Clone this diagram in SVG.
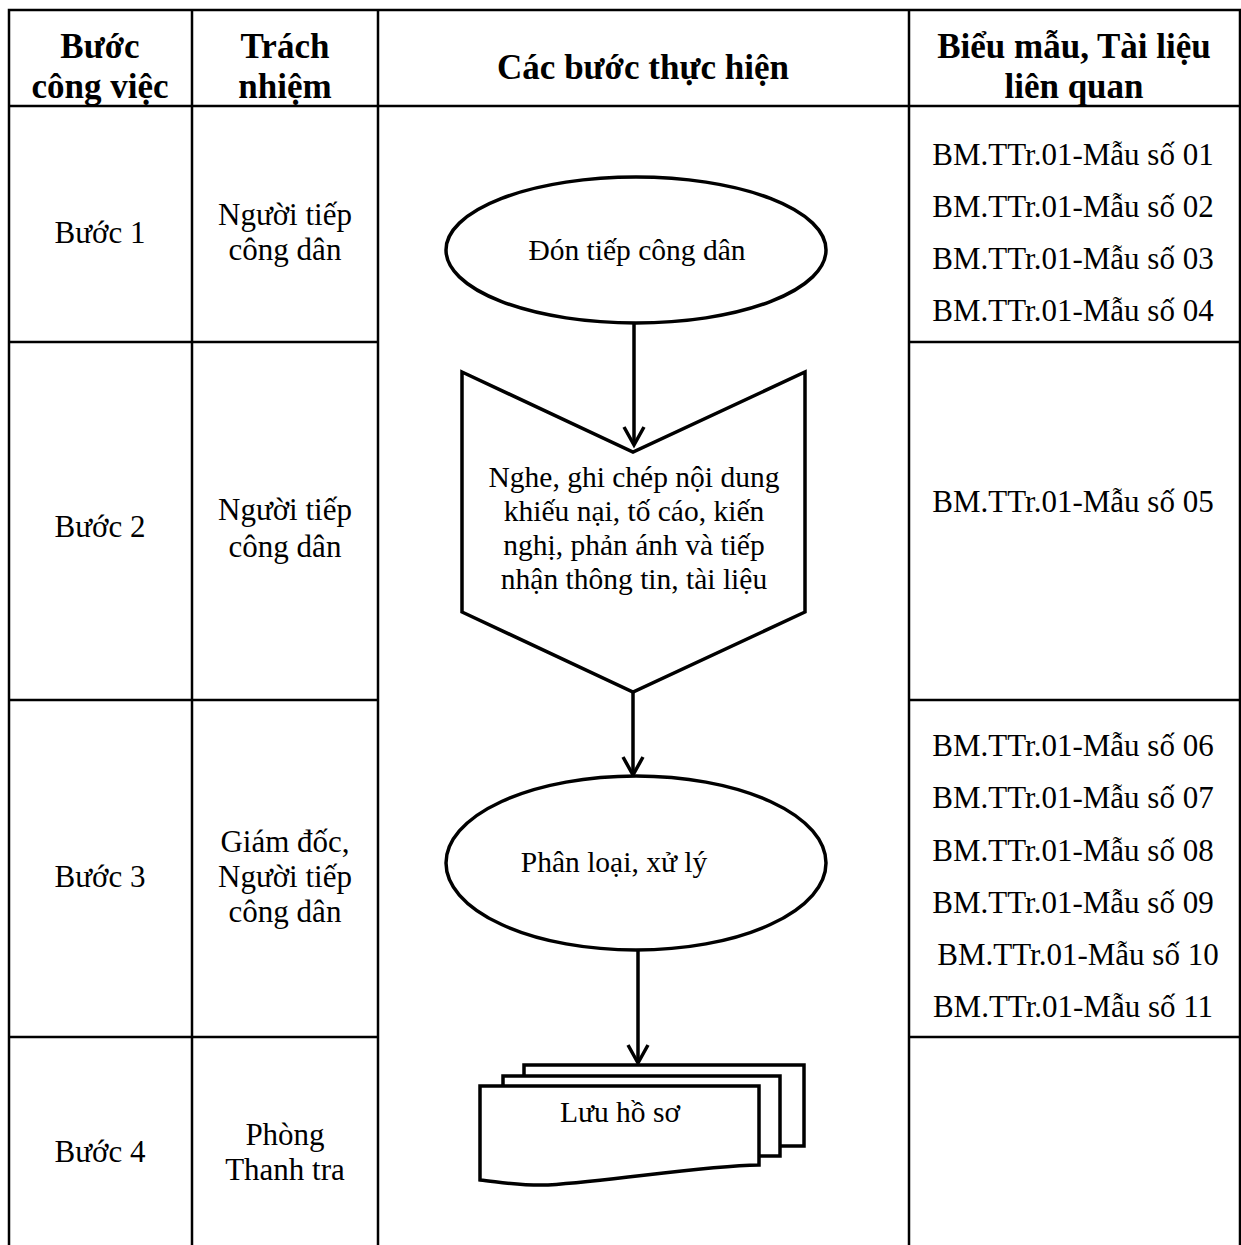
<svg xmlns="http://www.w3.org/2000/svg" width="1241" height="1245" viewBox="0 0 1241 1245">
<defs>
<style>
.grid{stroke:#000;stroke-width:2.5;fill:none}
.hd{font-family:"Liberation Serif","Times New Roman",serif;font-weight:bold;font-size:35px;fill:#000;text-anchor:middle}
.tx{font-family:"Liberation Serif","Times New Roman",serif;font-size:31px;fill:#000;text-anchor:middle}
.fc{font-family:"Liberation Serif","Times New Roman",serif;font-size:29.5px;fill:#000;text-anchor:middle}
.shape{stroke:#000;stroke-width:3.5;fill:#fff}
.conn{stroke:#000;stroke-width:3.5;fill:none}
</style>
<marker id="arr" markerWidth="24" markerHeight="26" refX="19" refY="12" orient="auto" markerUnits="userSpaceOnUse">
<path d="M1,2 L19,12 L1,22" fill="none" stroke="#000" stroke-width="3.5"/>
</marker>
</defs>
<rect width="1241" height="1245" fill="#fff"/>
<g id="table">
<path class="grid" d="M9,1245 V10 H1240 V1245 M192,10 V1245 M378,10 V1245 M909,10 V1245 M9,106 H1240 M9,342 H378 M909,342 H1240 M9,700 H378 M909,700 H1240 M9,1037 H378 M909,1037 H1240"/>
<text class="hd" x="100" y="58">Bước</text>
<text class="hd" x="100" y="98">công việc</text>
<text class="hd" x="285" y="58">Trách</text>
<text class="hd" x="285" y="98">nhiệm</text>
<text class="hd" x="643" y="79">Các bước thực hiện</text>
<text class="hd" x="1074" y="58">Biểu mẫu, Tài liệu</text>
<text class="hd" x="1074" y="98">liên quan</text>
<text class="tx" x="100" y="243">Bước 1</text>
<text class="tx" x="285" y="225">Người tiếp</text>
<text class="tx" x="285" y="260">công dân</text>
<text class="tx" x="100" y="537">Bước 2</text>
<text class="tx" x="285" y="520">Người tiếp</text>
<text class="tx" x="285" y="557">công dân</text>
<text class="tx" x="100" y="887">Bước 3</text>
<text class="tx" x="285" y="852">Giám đốc,</text>
<text class="tx" x="285" y="887">Người tiếp</text>
<text class="tx" x="285" y="922">công dân</text>
<text class="tx" x="100" y="1162">Bước 4</text>
<text class="tx" x="285" y="1145">Phòng</text>
<text class="tx" x="285" y="1180">Thanh tra</text>
<text class="tx" x="1073" y="165">BM.TTr.01-Mẫu số 01</text>
<text class="tx" x="1073" y="217">BM.TTr.01-Mẫu số 02</text>
<text class="tx" x="1073" y="269">BM.TTr.01-Mẫu số 03</text>
<text class="tx" x="1073" y="321">BM.TTr.01-Mẫu số 04</text>
<text class="tx" x="1073" y="512">BM.TTr.01-Mẫu số 05</text>
<text class="tx" x="1073" y="756">BM.TTr.01-Mẫu số 06</text>
<text class="tx" x="1073" y="808">BM.TTr.01-Mẫu số 07</text>
<text class="tx" x="1073" y="861">BM.TTr.01-Mẫu số 08</text>
<text class="tx" x="1073" y="913">BM.TTr.01-Mẫu số 09</text>
<text class="tx" x="1078" y="965">BM.TTr.01-Mẫu số 10</text>
<text class="tx" x="1073" y="1017">BM.TTr.01-Mẫu số 11</text>
</g>
<g id="connectors">
<line class="conn" x1="634" y1="323" x2="634" y2="445" marker-end="url(#arr)"/>
<line class="conn" x1="633" y1="693" x2="633" y2="775" marker-end="url(#arr)"/>
<line class="conn" x1="638" y1="951" x2="638" y2="1063" marker-end="url(#arr)"/>
</g>
<g id="node-don-tiep">
<ellipse class="shape" cx="636" cy="250" rx="190" ry="73"/>
<text class="fc" x="637" y="260">Đón tiếp công dân</text>
</g>
<g id="node-nghe-ghi-chep">
<path class="shape" d="M462,372 L633,452 L805,372 L805,612 L633,692 L462,612 Z"/>
<text class="fc" x="634" y="487">Nghe, ghi chép nội dung</text>
<text class="fc" x="634" y="521">khiếu nại, tố cáo, kiến</text>
<text class="fc" x="634" y="555">nghị, phản ánh và tiếp</text>
<text class="fc" x="634" y="589">nhận thông tin, tài liệu</text>
</g>
<g id="node-phan-loai">
<ellipse class="shape" cx="636" cy="863" rx="190" ry="87"/>
<text class="fc" x="614" y="872">Phân loại, xử lý</text>
</g>
<g id="node-luu-ho-so">
<rect class="shape" x="524" y="1065" width="280" height="81"/>
<rect class="shape" x="503" y="1076" width="277" height="80"/>
<path class="shape" d="M480,1086 L759,1086 L759,1165 C700,1166 620,1180 548,1185 C520,1186 500,1182 480,1180 Z"/>
<text class="fc" x="620" y="1122">Lưu hồ sơ</text>
</g>
</svg>
